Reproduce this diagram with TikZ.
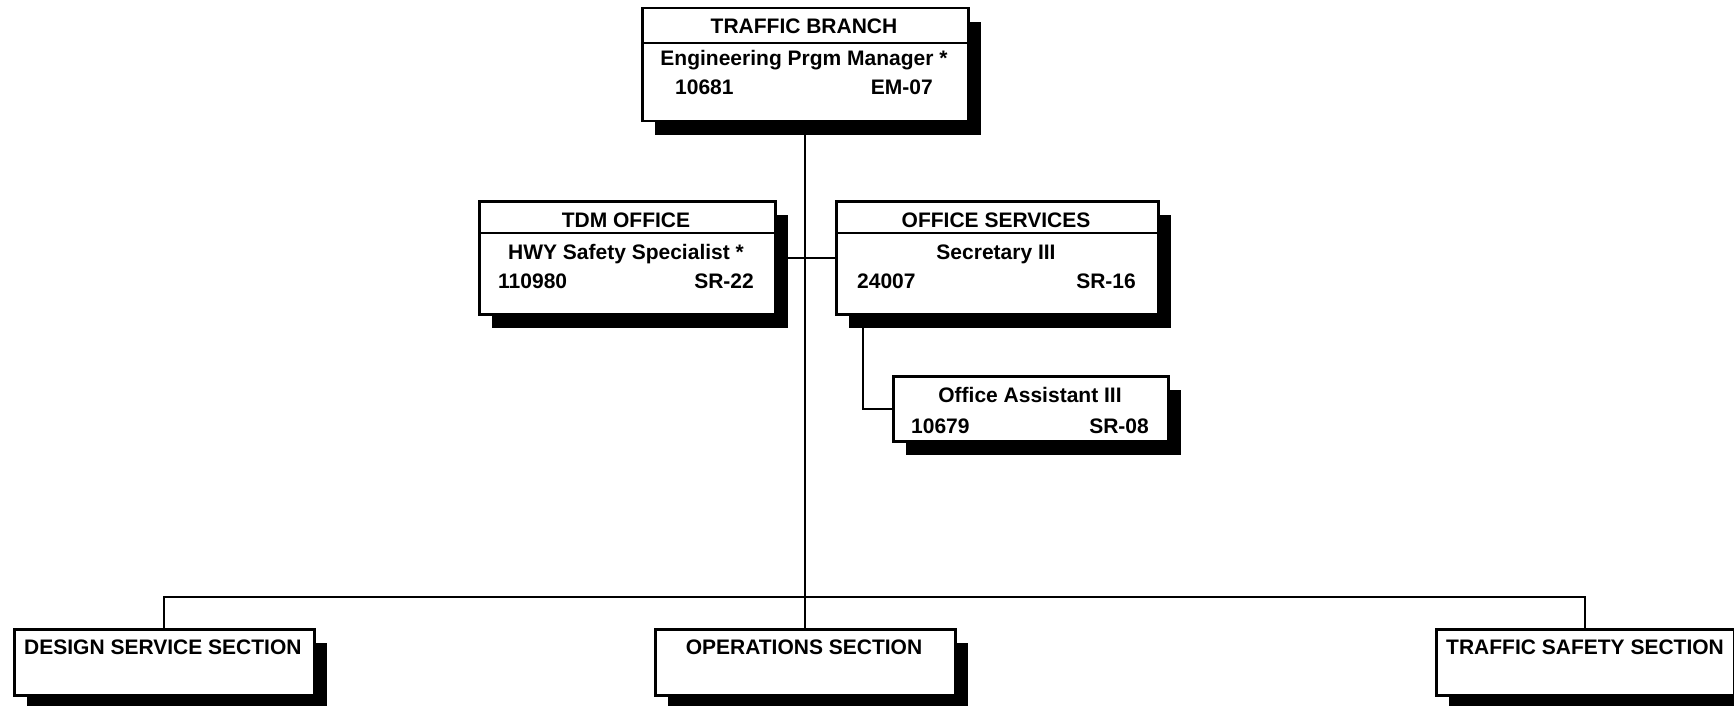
\documentclass[tikz,border=0pt]{standalone}
\usepackage{fontspec}
\setmainfont{Liberation Sans}
\usetikzlibrary{shadows,backgrounds}
\begin{document}
\begin{tikzpicture}[x=1pt,y=-1pt,
  box/.style={draw, line width=2.5pt, fill=white, rectangle, inner sep=0pt, anchor=north west,
    drop shadow={shadow xshift=13pt, shadow yshift=-14pt, opacity=1, fill=black}},
  lbl/.style={inner sep=0pt, font=\fontsize{21}{25}\selectfont\bfseries},
  link/.style={line width=2pt},
  divline/.style={line width=2.5pt}]
\useasboundingbox (0,0) rectangle (1734,706);

% boxes
\node[box, minimum width=326pt, minimum height=113pt] (top) at (641,7) {};
\node[box, minimum width=296pt, minimum height=113pt] (tdm) at (478,200) {};
\node[box, minimum width=322pt, minimum height=113pt] (os) at (835,200) {};
\node[box, minimum width=275pt, minimum height=65pt] (oa) at (892,375) {};
\node[box, minimum width=300pt, minimum height=66pt] (ds) at (13,628) {};
\node[box, minimum width=300pt, minimum height=66pt] (ops) at (654,628) {};
\node[box, minimum width=298pt, minimum height=66pt] (ts) at (1435,628) {};

% dividers
\draw[divline] ([yshift=-36pt]top.north west) -- ([yshift=-36pt]top.north east);
\draw[divline] ([yshift=-33pt]tdm.north west) -- ([yshift=-33pt]tdm.north east);
\draw[divline] ([yshift=-33pt]os.north west) -- ([yshift=-33pt]os.north east);

% texts
\node[lbl, anchor=base] (t1) at (804,34) {TRAFFIC BRANCH};
\node[lbl, anchor=base] (t2) at (804,66) {Engineering Prgm Manager *};
\node[lbl, anchor=base west] (t3) at (675,95) {10681};
\node[lbl, anchor=base east] (t4) at (933,95) {EM-07};

\node[lbl, anchor=base] (d1) at (626,227) {TDM OFFICE};
\node[lbl, anchor=base] (d2) at (626,259) {HWY Safety Specialist *};
\node[lbl, anchor=base west] (d3) at (498,288) {110980};
\node[lbl, anchor=base east] (d4) at (754,288) {SR-22};

\node[lbl, anchor=base] (o1) at (996,227) {OFFICE SERVICES};
\node[lbl, anchor=base] (o2) at (996,259) {Secretary III};
\node[lbl, anchor=base west] (o3) at (857,288) {24007};
\node[lbl, anchor=base east] (o4) at (1136,288) {SR-16};

\node[lbl, anchor=base] (a1) at (1030,402) {Office Assistant III};
\node[lbl, anchor=base west] (a3) at (911,433) {10679};
\node[lbl, anchor=base east] (a4) at (1149,433) {SR-08};

\node[lbl, anchor=base west] (s1) at (24,654) {DESIGN SERVICE SECTION};
\node[lbl, anchor=base] (s2) at (804,654) {OPERATIONS SECTION};
\node[lbl, anchor=base west] (s3) at (1446,654) {TRAFFIC SAFETY SECTION};

% connectors
\coordinate (bus) at (804,597);
\begin{pgfonlayer}{background}
\draw[link] (top.south) -- (ops.north);
\draw[link] (ds.north) |- (bus) -| (ts.north);
\draw[link] (tdm.east) -- (os.west);
\draw[link] ([xshift=28pt]os.south west) |- (oa.west);
\end{pgfonlayer}
\end{tikzpicture}
\end{document}
